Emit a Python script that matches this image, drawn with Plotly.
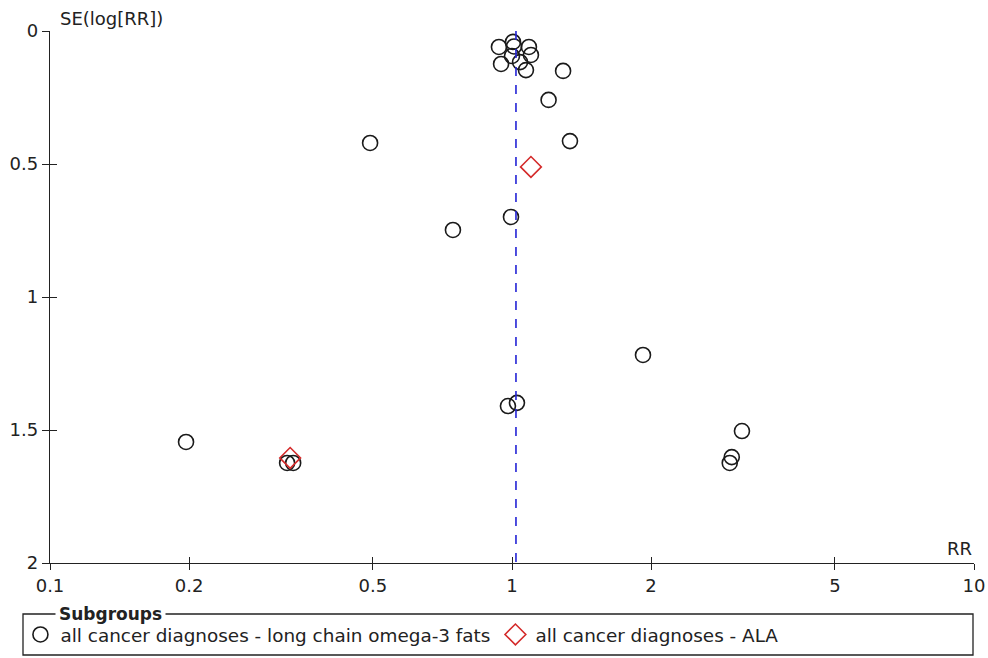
import plotly.graph_objects as go

# ---- data ----
lc_rr = [0.937, 1.005, 1.01, 1.088, 1.099, 0.947, 1.0, 1.041, 1.072,
         1.29, 1.20, 1.335, 0.493, 0.995, 0.745, 1.921, 1.025, 0.98,
         0.197, 3.146, 2.99, 2.96, 0.326, 0.336]
lc_se = [0.060, 0.041, 0.058, 0.060, 0.090, 0.124, 0.094, 0.117, 0.147,
         0.150, 0.259, 0.414, 0.421, 0.699, 0.748, 1.218, 1.398, 1.410,
         1.545, 1.504, 1.602, 1.624, 1.624, 1.624]
ala_rr = [1.099, 0.331]
ala_se = [0.511, 1.605]
pooled_rr = 1.02
se_range = [0, 2]

x_ticks = [0.1, 0.2, 0.5, 1, 2, 5, 10]
x_ticktext = ["0.1", "0.2", "0.5", "1", "2", "5", "10"]
y_ticks = [0, 0.5, 1, 1.5, 2]
y_ticktext = ["0", "0.5", "1", "1.5", "2"]

names = ["all cancer diagnoses - long chain omega-3 fats", "all cancer diagnoses - ALA"]

FONT = "DejaVu Sans, Verdana, sans-serif"
FS = 18
TXT = "#222222"

fig = go.Figure()
fig.add_trace(go.Scatter(
    x=lc_rr, y=lc_se, mode="markers", name=names[0],
    marker=dict(symbol="circle-open", size=15, color="#1a1a1a", line=dict(width=1.6)),
    cliponaxis=False,
))
fig.add_trace(go.Scatter(
    x=ala_rr, y=ala_se, mode="markers", name=names[1],
    marker=dict(symbol="diamond-open", size=16, color="#d42a2a", line=dict(width=1.6)),
    cliponaxis=False,
))
fig.add_trace(go.Scatter(
    x=[pooled_rr, pooled_rr], y=se_range, mode="lines", showlegend=False,
    line=dict(color="#2323d6", width=1.6, dash="dash"),
    xaxis="x2", yaxis="y2", hoverinfo="skip",
))

axis_common = dict(showgrid=False, zeroline=False, linecolor="#222222", linewidth=1.3,
                   tickcolor="#222222", tickwidth=1.3,
                   tickfont=dict(family=FONT, size=FS, color=TXT))

fig.update_layout(
    width=988, height=658,
    margin=dict(l=50, r=14, t=31, b=95, autoexpand=False),
    plot_bgcolor="white", paper_bgcolor="white",
    font=dict(family=FONT, size=FS, color=TXT),
    xaxis=dict(type="log", range=[-1, 1], tickvals=x_ticks, ticktext=x_ticktext,
               ticks="outside", ticklen=6, showline=True, automargin=False, **axis_common),
    yaxis=dict(range=[2, 0], tickvals=y_ticks, ticktext=y_ticktext,
               ticks="outside", ticklen=7, showline=True, automargin=False, **axis_common),
    xaxis2=dict(type="log", range=[-1, 1], tickvals=x_ticks, overlaying="x",
                ticks="inside", ticklen=6, showline=False, showticklabels=False,
                showgrid=False, zeroline=False, tickcolor="#222222", tickwidth=1.3,
                anchor="y2", side="bottom"),
    yaxis2=dict(range=[2, 0], tickvals=y_ticks, overlaying="y",
                ticks="inside", ticklen=7, showline=False, showticklabels=False,
                showgrid=False, zeroline=False, tickcolor="#222222", tickwidth=1.3,
                anchor="x2", side="left"),
    legend=dict(orientation="h", x=-0.032, y=-0.0996, xanchor="left", yanchor="top",
                bgcolor="rgba(0,0,0,0)", borderwidth=0,
                font=dict(family=FONT, size=18.4, color=TXT),
                itemwidth=30, tracegroupgap=0),
    showlegend=True,
)

# legend frame
fig.add_shape(type="rect", xref="paper", yref="paper",
              x0=(23 - 50) / 924, x1=(973 - 50) / 924,
              y0=(563 - 655) / 532, y1=(563 - 614) / 532,
              line=dict(color="#222222", width=1.3), fillcolor="rgba(0,0,0,0)")

fig.add_annotation(text="<b>Subgroups</b>", xref="paper", yref="paper",
                   x=(55 - 50) / 924, y=(563 - 614) / 532, xanchor="left", yanchor="middle",
                   showarrow=False, bgcolor="white", borderpad=3,
                   font=dict(family=FONT, size=17, color=TXT))
fig.add_annotation(text="SE(log[RR])", xref="paper", yref="paper",
                   x=(58 - 50) / 924, y=(563 - 18) / 532, xanchor="left", yanchor="middle",
                   showarrow=False, font=dict(family=FONT, size=FS, color=TXT))
fig.add_annotation(text="RR", xref="paper", yref="paper",
                   x=1.0, y=(563 - 548) / 532, xanchor="right", yanchor="middle",
                   showarrow=False, font=dict(family=FONT, size=FS, color=TXT))

fig.write_html("out.html")
